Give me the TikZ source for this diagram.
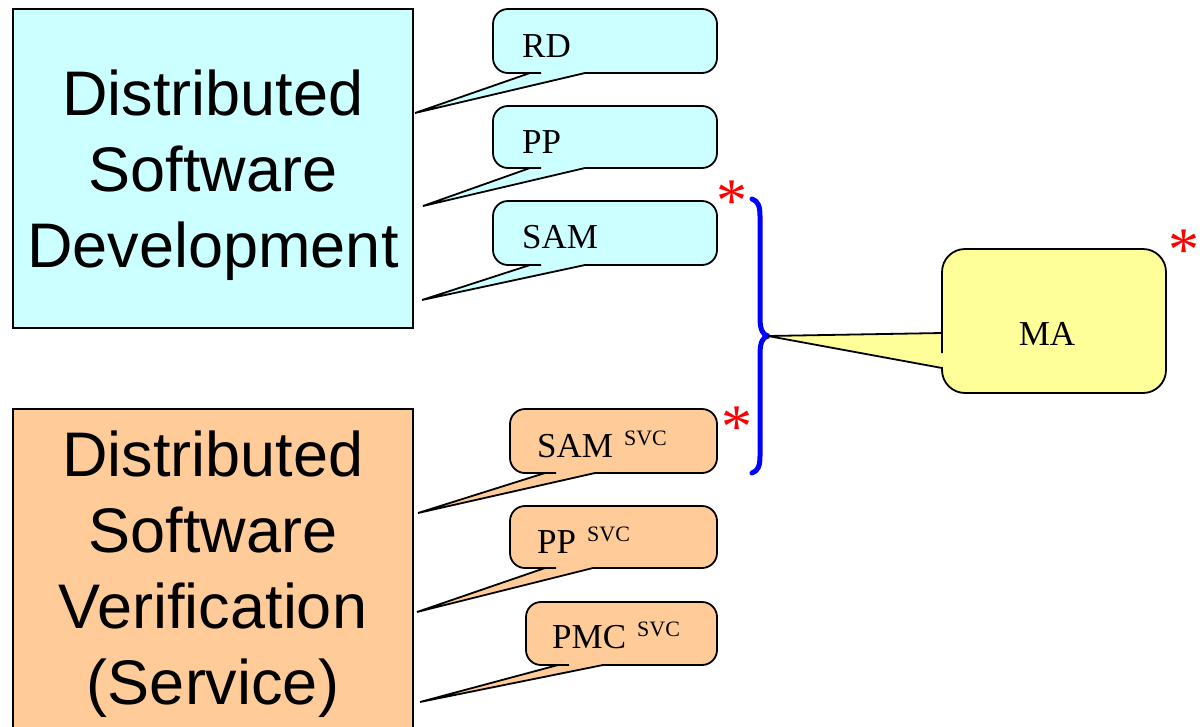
\documentclass[tikz,border=0pt]{standalone}
\usepackage{fontspec}
\setmainfont{Liberation Serif}
\newfontfamily\arialfont{Liberation Sans}
\definecolor{cyanfill}{HTML}{CCFFFF}
\definecolor{orangefill}{HTML}{FFCC99}
\definecolor{yellowfill}{HTML}{FFFF99}
\tikzset{
  bigbox/.style={draw=black, line width=2pt, inner sep=0pt, align=center,
    font=\arialfont\fontsize{63}{76}\selectfont},
  calloutshape/.style={draw=black, line width=1.8pt, line join=miter},
  clabel/.style={inner sep=0pt, anchor=base west, font=\fontsize{35}{40}\selectfont},
  star/.style={inner sep=0pt, anchor=base, text=red, font=\fontsize{62}{62}\selectfont},
  bracestyle/.style={draw=blue, line width=5pt, line cap=round, line join=round},
}
% #1 fill, #2 L, #3 top, #4 R, #5 bot, #6 x1, #7 x2, #8 tip name
\newcommand\bubble[8]{%
  \path[calloutshape, fill=#1] (#6,#5) -- (#8) -- (#7,#5) -- (#7+4,#5)
    [rounded corners=15pt] -- (#4,#5) -- (#4,#3) -- (#2,#3) -- (#2,#5) -- (#6-4,#5)
    [sharp corners] -- cycle;}
\newcommand\svc{\hspace{11pt}\raisebox{12pt}{\fontsize{22}{22}\selectfont SVC}}
\begin{document}
\begin{tikzpicture}[x=1pt, y=-1pt]
\useasboundingbox (0,0) rectangle (1200,726);
\begin{scope}
\clip (0,0) rectangle (1200,726);
% main boxes
\node[bigbox, fill=cyanfill, minimum width=400pt, minimum height=319pt, text depth=0pt] (dsd) at (213,168.5)
  {Distributed\\Software\\Development};
\node[bigbox, fill=orangefill, minimum width=400pt, minimum height=330pt] (dsv) at (213,574)
  {Distributed\\Software\\Verification\\(Service)};

% callout tips on the box edges
\coordinate (tRD) at (415,113);
\coordinate (tPP) at (423,206);
\coordinate (tSAM) at (422,300);
\coordinate (tSAMs) at (418,513);
\coordinate (tPPs) at (417,612);
\coordinate (tPMCs) at (420,702);

% cyan callouts
\bubble{cyanfill}{493}{9}{717}{73}{530}{585}{tRD}
\node[clabel] (rd) at (522,57) {RD};
\bubble{cyanfill}{493}{106}{717}{168}{530}{585}{tPP}
\node[clabel] (pp) at (522,153) {PP};
\bubble{cyanfill}{493}{201}{717}{265}{530}{585}{tSAM}
\node[clabel] (sam) at (522,248) {SAM};

% orange callouts
\bubble{orangefill}{510}{409}{717}{473}{545}{595}{tSAMs}
\node[clabel] (sams) at (537,457) {SAM\svc};
\bubble{orangefill}{510}{506}{717}{568}{545}{593}{tPPs}
\node[clabel] (pps) at (537,553) {PP\svc};
\bubble{orangefill}{526}{602}{717}{665}{558}{603}{tPMCs}
\node[clabel] (pmcs) at (552,648) {PMC\svc};

% brace
\coordinate (btop) at (752,199);
\coordinate (btip) at (768,336);
\coordinate (bbot) at (752,473);
\draw[bracestyle] (btop) .. controls (758,201) and (760,206) .. (760,216) -- (760,318)
  .. controls (760,330) and (763,335) .. (btip)
  .. controls (763,337) and (760,342) .. (760,354) -- (760,456)
  .. controls (760,466) and (758,471) .. (bbot);

% MA callout
\path[calloutshape, fill=yellowfill] (942,333) -- (btip) -- (942,368) -- (942,369)
  [rounded corners=23pt] -- (942,393) -- (1166,393) -- (1166,249) -- (942,249) -- (942,330)
  [sharp corners] -- cycle;
\node[inner sep=0pt, anchor=base, font=\fontsize{35}{40}\selectfont] (ma) at (1047,345) {MA};

% asterisks
\node[star] (s1) at (732,221) {*};
\node[star] (s2) at (737,447) {*};
\node[star] (s3) at (1184,270) {*};
\end{scope}
\end{tikzpicture}
\end{document}
